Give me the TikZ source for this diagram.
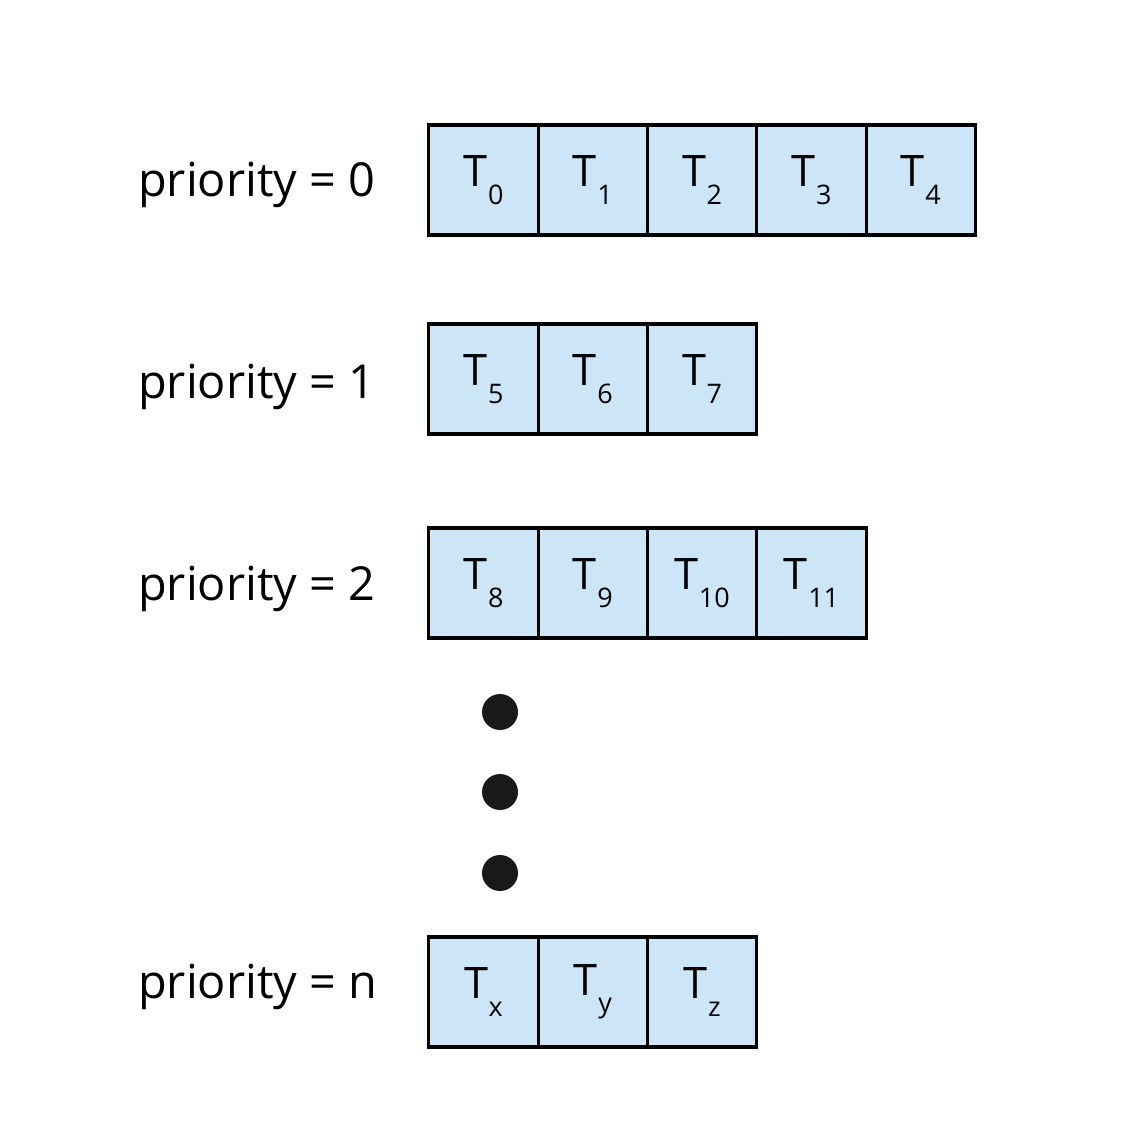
\documentclass[tikz,border=0pt]{standalone}
\usepackage{fontspec}
\setmainfont{Open Sans}
\usepackage{tikz}
\usetikzlibrary{positioning}

\definecolor{cellblue}{RGB}{204,230,248}
\newcommand{\tsub}[1]{T\kern0.01em\raisebox{-0.4em}{\fontsize{23pt}{23pt}\selectfont #1}}

\tikzset{
    cell/.style={draw, fill=cellblue, line width=2.7pt, outer sep=0pt, inner sep=0pt,
        minimum width=3.28cm, minimum height=3.3cm,
        font=\fontsize{37pt}{37pt}\selectfont},
    prio/.style={anchor=base west, inner sep=0pt, font=\fontsize{40pt}{40pt}\selectfont},
    dot/.style={circle, fill=black!90, inner sep=0pt, minimum size=1.08cm}
}

\begin{document}
\begin{tikzpicture}[x=0.03cm, y=-0.03cm]
    \useasboundingbox (0, 0) rectangle (1124, 1146);

    % priority 0
    \node[prio] at (138, 196) (l0) {priority = 0};
    \node[cell] at (483.5, 180) (t0) {\tsub{0}};
    \node[cell, right=0pt of t0] (t1) {\tsub{1}};
    \node[cell, right=0pt of t1] (t2) {\tsub{2}};
    \node[cell, right=0pt of t2] (t3) {\tsub{3}};
    \node[cell, right=0pt of t3] (t4) {\tsub{4}};

    % priority 1
    \node[prio] at (138, 398) (l1) {priority = 1};
    \node[cell] at (483.5, 379) (t5) {\tsub{5}};
    \node[cell, right=0pt of t5] (t6) {\tsub{6}};
    \node[cell, right=0pt of t6] (t7) {\tsub{7}};

    % priority 2
    \node[prio] at (138, 600) (l2) {priority = 2};
    \node[cell] at (483.5, 583) (t8) {\tsub{8}};
    \node[cell, right=0pt of t8] (t9) {\tsub{9}};
    \node[cell, right=0pt of t9] (t10) {\tsub{10}};
    \node[cell, right=0pt of t10] (t11) {\tsub{11}};

    % dots
    \node[dot] at (500, 712) (d1) {};
    \node[dot] at (500, 792) (d2) {};
    \node[dot] at (500, 873) (d3) {};

    % priority n
    \node[prio] at (138, 998) (ln) {priority = n};
    \node[cell] at (483.5, 992) (tx) {\tsub{x}};
    \node[cell, right=0pt of tx] (ty) {\tsub{y}};
    \node[cell, right=0pt of ty] (tz) {\tsub{z}};
\end{tikzpicture}
\end{document}
